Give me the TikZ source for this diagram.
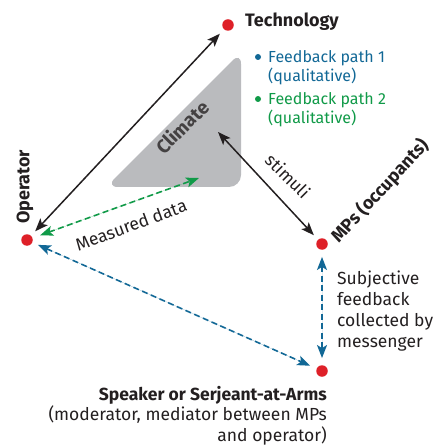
\documentclass[tikz,border=0pt]{standalone}
\usepackage{fontspec}
\setmainfont{Fira Sans}
\usetikzlibrary{arrows.meta}
\definecolor{dotred}{RGB}{222,32,40}
\definecolor{fbblue}{RGB}{18,104,150}
\definecolor{fbgreen}{RGB}{16,154,72}
\definecolor{clgray}{RGB}{186,187,190}
\definecolor{txt}{RGB}{35,31,32}
\tikzset{
  dot/.style={circle,fill=dotred,inner sep=0pt,minimum size=11.5pt},
  lbl/.style={font=\fontsize{17.5}{21}\selectfont,text=txt,inner sep=0pt},
  leg/.style={font=\fontsize{16}{18.5}\selectfont,inner sep=0pt},
  blbl/.style={font=\fontsize{18}{21}\selectfont\bfseries,text=txt,inner sep=0pt},
  dtip/.style={{Stealth[length=13pt,width=10pt,inset=3pt]}-{Stealth[length=13pt,width=10pt,inset=3pt]}},
  solidarr/.style={dtip,draw=txt,fill=txt,line width=1.5pt},
  dasharr/.style={dtip,line width=1.6pt,dash pattern=on 6pt off 3.5pt},
}
\begin{document}
\begin{tikzpicture}[x=1pt,y=-1pt]
\useasboundingbox (0,0) rectangle (433,446);
% climate
\fill[clgray,rounded corners=12pt] (241,52) -- (241,187) -- (106,187) -- cycle;
\node[font=\fontsize{19}{21}\selectfont\bfseries,inner sep=0pt,text=txt!85,rotate=45] (clim) at (182,127) {Climate};
\coordinate (climS) at (218,132);
\coordinate (climM) at (199,178);
% dots
\node[dot] (tech) at (228,25) {};
\node[dot] (op) at (27,240) {};
\node[dot] (mps) at (322,244) {};
\node[dot] (spk) at (322,371) {};
% labels
\node[blbl,anchor=base west] (techl) at (245,27) {Technology};
\node[blbl,rotate=90] (opl) at (25,187) {Operator};
\node[blbl,rotate=47] (mpsl) at (380,191) {MPs (occupants)};
% legend
\node[circle,fill=fbblue,inner sep=0pt,minimum size=6pt] (lb) at (258,57) {};
\node[leg,text=fbblue,anchor=north west,align=left] (lbt) at (268,50.5) {Feedback path 1\\(qualitative)};
\node[circle,fill=fbgreen,inner sep=0pt,minimum size=6pt] (lg) at (258,99) {};
\node[leg,text=fbgreen,anchor=north west,align=left] (lgt) at (268,92.5) {Feedback path 2\\(qualitative)};
% arrows
\draw[solidarr,shorten <=6pt,shorten >=6pt] (op) -- (tech);
\draw[solidarr,shorten <=6pt] (mps) -- (climS);
\node[lbl,rotate=-45] (stim) at (288,176) {stimuli};
\draw[dasharr,draw=fbgreen,fill=fbgreen,shorten <=8pt] (op) -- (climM);
\node[lbl,rotate=20.4] (meas) at (131,225) {Measured data};
\draw[dasharr,draw=fbblue,fill=fbblue,shorten <=6pt,shorten >=7pt] (op) -- (spk);
\draw[dasharr,draw=fbblue,fill=fbblue,shorten <=7pt,shorten >=7pt] (mps) -- (spk);
\node[lbl,anchor=north west,align=left] (subj) at (337,270.5) {Subjective\\feedback\\collected by\\messenger};
\node[lbl,font=\fontsize{17.5}{20.5}\selectfont,anchor=north east,align=right] (spkl) at (327,386) {\textbf{Speaker or Serjeant-at-Arms}\\(moderator, mediator between MPs\\and operator)};
\end{tikzpicture}
\end{document}
